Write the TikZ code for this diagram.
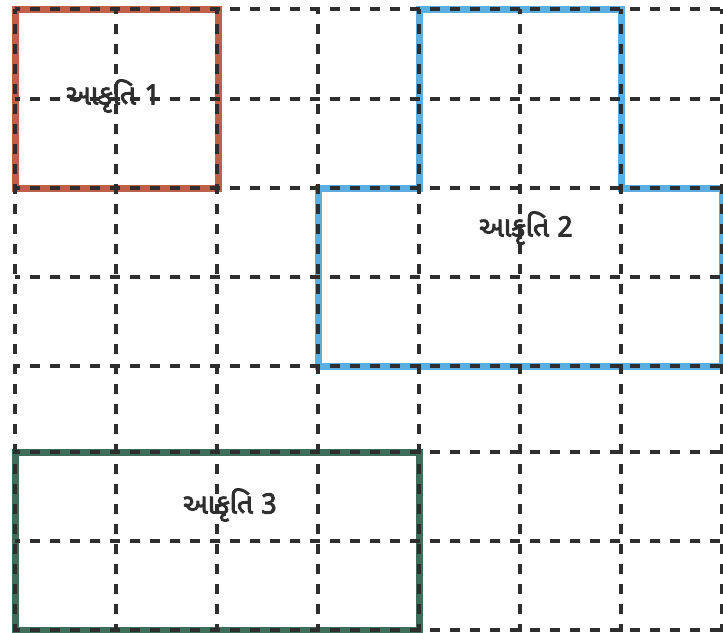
\documentclass[tikz,border=0pt]{standalone}
\usepackage{fontspec}
\newfontfamily\gujfont[Script=Gujarati,AutoFakeBold=3]{Noto Sans Gujarati UI}
\definecolor{gridc}{HTML}{2E2E2E}
\definecolor{redc}{HTML}{C0604A}
\definecolor{bluec}{HTML}{5AAEE0}
\definecolor{greenc}{HTML}{3F6E5A}
\tikzset{
  gridline/.style={draw=gridc, line width=3.6pt, dash pattern=on 10pt off 10pt, dash phase=5pt},
  outline/.style={line width=7pt, line join=miter},
  label/.style={font=\gujfont\bfseries\fontsize{28pt}{32pt}\selectfont, text=gridc, inner sep=0pt}
}
\begin{document}
\begin{tikzpicture}[x=1pt,y=-1pt]
\useasboundingbox[fill=white] (0,0) rectangle (723,632);
% coloured outlines
\draw[outline, draw=redc] (15,9) rectangle (218,188);
\draw[outline, draw=bluec] (419,9) -- (621,9) -- (621,188) -- (722,188) -- (722,366) -- (318,366) -- (318,188) -- (419,188) -- cycle;
\draw[outline, draw=greenc] (15,452) rectangle (419,630);
% grid
\foreach \x in {15,116,217,318,419,520,621,722} {
  \draw[gridline] (\x,9) -- (\x,632);
}
\foreach \y in {9,99,188,277,366,452,541,630} {
  \draw[gridline] (15,\y) -- (723,\y);
}
% labels
\node[label] (l1) at (113,96) {આકૃતિ 1};
\node[label] (l2) at (526,228) {આકૃતિ 2};
\node[label] (l3) at (230,505) {આકૃતિ 3};
\end{tikzpicture}
\end{document}
